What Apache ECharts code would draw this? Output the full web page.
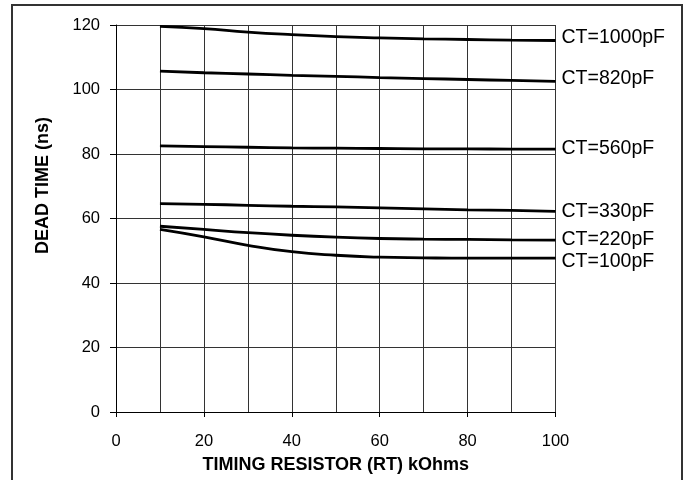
<!DOCTYPE html>
<html>
<head>
<meta charset="utf-8">
<script src="https://cdn.jsdelivr.net/npm/echarts@6/dist/echarts.min.js"></script>
<style>
  html, body { margin: 0; padding: 0; background: #fff; }
  #chart { width: 688px; height: 480px; }
</style>
</head>
<body>
<div id="chart"></div>
<script>
// timing resistor (kOhms)
const rt = [10, 20, 30, 40, 50, 60, 70, 80, 90, 100];

// dead time (ns) per timing capacitor
const ct1000 = [119.6, 118.9, 117.8, 117.0, 116.4, 116.0, 115.7, 115.5, 115.3, 115.2];
const ct820 = [105.7, 105.2, 104.8, 104.4, 104.1, 103.7, 103.4, 103.1, 102.8, 102.5];
const ct560 = [82.5, 82.3, 82.1, 81.9, 81.8, 81.7, 81.6, 81.6, 81.5, 81.5];
const ct330 = [64.6, 64.4, 64.1, 63.8, 63.6, 63.3, 63.0, 62.7, 62.5, 62.2];
const ct220 = [57.6, 56.6, 55.6, 54.8, 54.2, 53.8, 53.6, 53.5, 53.4, 53.3];
const ct100 = [56.6, 54.3, 51.7, 49.7, 48.6, 48.0, 47.8, 47.7, 47.7, 47.7];

const seriesNames = ['CT=1000pF', 'CT=820pF', 'CT=560pF', 'CT=330pF', 'CT=220pF', 'CT=100pF'];
const seriesValues = [ct1000, ct820, ct560, ct330, ct220, ct100];
const labelShift = [-3, -3, -1, 0, 0, 3];

const font = 'Liberation Sans, Arial, sans-serif';

const chart = echarts.init(document.getElementById('chart'));

const option = {
    animation: false,
    backgroundColor: '#fff',
    grid: {left: 116, right: 132.5, top: 25, bottom: 68},
    graphic: [{
        type: 'rect',
        shape: {x: 12, y: 5, width: 670, height: 490},
        style: {fill: 'none', stroke: '#333', lineWidth: 2},
        silent: true
    }],
    xAxis: {
        type: 'value',
        min: 0,
        max: 100,
        interval: 20,
        name: 'TIMING RESISTOR (RT) kOhms',
        nameLocation: 'middle',
        nameGap: 44,
        nameTextStyle: {fontFamily: font, fontSize: 18, fontWeight: 'bold', color: '#000'},
        axisLine: {lineStyle: {color: '#000', width: 1}},
        axisTick: {show: true, length: 5, lineStyle: {color: '#000'}},
        axisLabel: {fontFamily: font, fontSize: 16.5, color: '#000', margin: 21},
        splitLine: {show: true, lineStyle: {color: '#333', width: 1}},
        minorTick: {show: false, splitNumber: 2},
        minorSplitLine: {show: true, lineStyle: {color: '#333', width: 1}}
    },
    yAxis: {
        type: 'value',
        min: 0,
        max: 120,
        interval: 20,
        name: 'DEAD TIME (ns)',
        nameLocation: 'middle',
        nameRotate: 90,
        nameGap: 64,
        nameTextStyle: {fontFamily: font, fontSize: 18, fontWeight: 'bold', color: '#000', padding: [0, 0, 0, 66]},
        axisLine: {show: true, lineStyle: {color: '#000', width: 1}},
        axisTick: {show: true, length: 6, lineStyle: {color: '#000'}},
        axisLabel: {fontFamily: font, fontSize: 16.5, color: '#000', margin: 16},
        splitLine: {show: true, lineStyle: {color: '#333', width: 1}}
    },
    series: seriesNames.map((name, i) => ({
        name: name,
        type: 'line',
        data: rt.map((x, j) => [x, seriesValues[i][j]]),
        smooth: true,
        showSymbol: false,
        lineStyle: {color: '#000', width: 2.8},
        endLabel: {
            show: true,
            formatter: name,
            distance: 6,
            offset: [0, labelShift[i]],
            fontFamily: font,
            fontSize: 19.5,
            color: '#000'
        }
    }))
};

chart.setOption(option);
</script>
</body>
</html>
